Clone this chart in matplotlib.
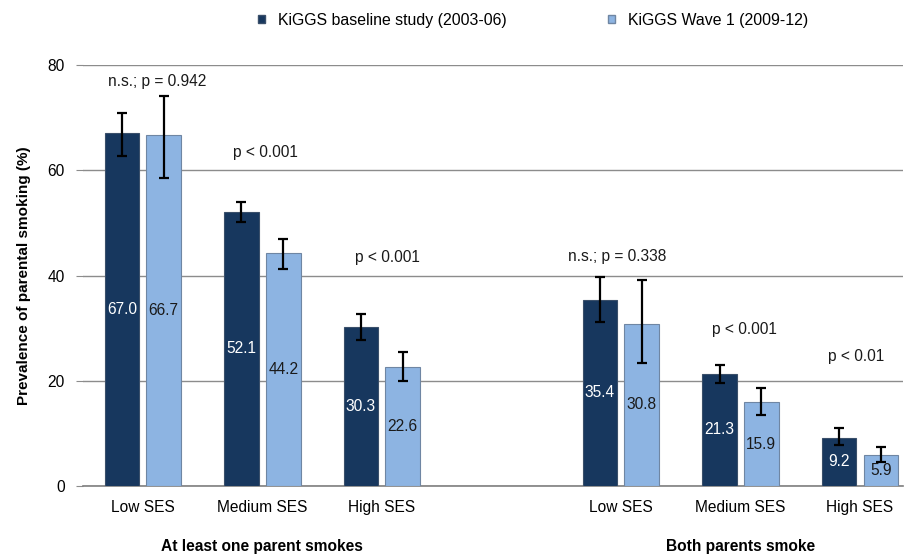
import numpy as np
import matplotlib
matplotlib.use('Agg')
import matplotlib.pyplot as plt
from matplotlib.patches import Patch
import matplotlib.transforms as mtransforms

plt.rcParams['font.family'] = ['Liberation Sans', 'DejaVu Sans']

categories = ["Low SES", "Medium SES", "High SES", "Low SES", "Medium SES", "High SES"]
groups = ["At least one parent smokes", "Both parents smoke"]
slots = [0, 1, 2, 4, 5, 6]
group_slots = [1, 5]

baseline = [67.0, 52.1, 30.3, 35.4, 21.3, 9.2]
baseline_lo = [62.7, 50.2, 27.7, 31.1, 19.5, 7.8]
baseline_hi = [70.9, 54.0, 32.6, 39.8, 23.0, 11.0]

wave1 = [66.7, 44.2, 22.6, 30.8, 15.9, 5.9]
wave1_lo = [58.5, 41.3, 20.0, 23.4, 13.4, 4.5]
wave1_hi = [74.1, 47.0, 25.4, 39.1, 18.6, 7.5]

p_labels = ["n.s.; p = 0.942", "p < 0.001", "p < 0.001",
            "n.s.; p = 0.338", "p < 0.001", "p < 0.01"]
p_y = [76.8, 63.3, 43.5, 43.7, 29.8, 24.7]
p_dx = [0.12, 0.03, 0.05, -0.03, 0.03, -0.03]

dark = '#17375E'
light = '#8DB4E2'
grid_c = '#8c8c8c'

fig = plt.figure(figsize=(9.1, 5.55), dpi=100)
ax = fig.add_axes([0.0912, 0.1243, 0.9011, 0.7586])

x = np.array(slots, dtype=float)
w = 0.29
off = 0.175
b = np.array(baseline)
v = np.array(wave1)

ax.bar(x - off, b, w, color=dark, edgecolor='#3a4f6a', linewidth=0.8, zorder=3)
ax.bar(x + off, v, w, color=light, edgecolor='#6f86a3', linewidth=0.8, zorder=3)
ax.errorbar(x - off, b, yerr=[b - np.array(baseline_lo), np.array(baseline_hi) - b],
            fmt='none', ecolor='black', elinewidth=1.6, capsize=3.5, capthick=1.6, zorder=4)
ax.errorbar(x + off, v, yerr=[v - np.array(wave1_lo), np.array(wave1_hi) - v],
            fmt='none', ecolor='black', elinewidth=1.6, capsize=3.5, capthick=1.6, zorder=4)

for xi, val in zip(x - off, b):
    ax.text(xi, val / 2, f"{val:.1f}", ha='center', va='center', color='white', fontsize=11.2, zorder=5)
for xi, val in zip(x + off, v):
    ax.text(xi, val / 2, f"{val:.1f}", ha='center', va='center', color='#1a1a1a', fontsize=11.2, zorder=5)

for xi, lab, yy, dx in zip(x, p_labels, p_y, p_dx):
    ax.text(xi + dx, yy, lab, ha='center', va='center', fontsize=11.2, color='#1a1a1a')

ax.set_xlim(-0.5, 6.36)
ax.set_ylim(0, 80)
ax.set_yticks([0, 20, 40, 60, 80])
ax.set_xticks(x)
ax.set_xticklabels(categories, fontsize=11.2)
ax.tick_params(axis='y', labelsize=11.2, length=5, color=grid_c, pad=8)
ax.tick_params(axis='x', length=0, pad=10)
ax.yaxis.grid(True, color=grid_c, linewidth=1, zorder=0)
ax.set_axisbelow(True)
for s in ['left', 'right', 'top']:
    ax.spines[s].set_visible(False)
ax.spines['bottom'].set_color('#7f7f7f')
ax.spines['bottom'].set_linewidth(1.2)

ax.set_ylabel("Prevalence of parental smoking (%)", fontsize=11, fontweight='bold', labelpad=12)

trans = mtransforms.blended_transform_factory(ax.transData, fig.transFigure)
for gx, g in zip(group_slots, groups):
    ax.text(gx, 1 - 547 / 555, g, transform=trans, ha='center', va='center',
            fontsize=11.2, fontweight='bold')

handles = [Patch(facecolor=dark, edgecolor='#3a4f6a'), Patch(facecolor=light, edgecolor='#6f86a3')]
fig.legend(handles, ["KiGGS baseline study (2003-06)", "KiGGS Wave 1 (2009-12)"],
           loc='center', bbox_to_anchor=(0.586, 1 - 20 / 555), ncol=2, frameon=False,
           fontsize=11.4, handlelength=0.45, handleheight=0.45, handletextpad=0.8,
           columnspacing=6.4)

fig.savefig("out.png", dpi=100)
